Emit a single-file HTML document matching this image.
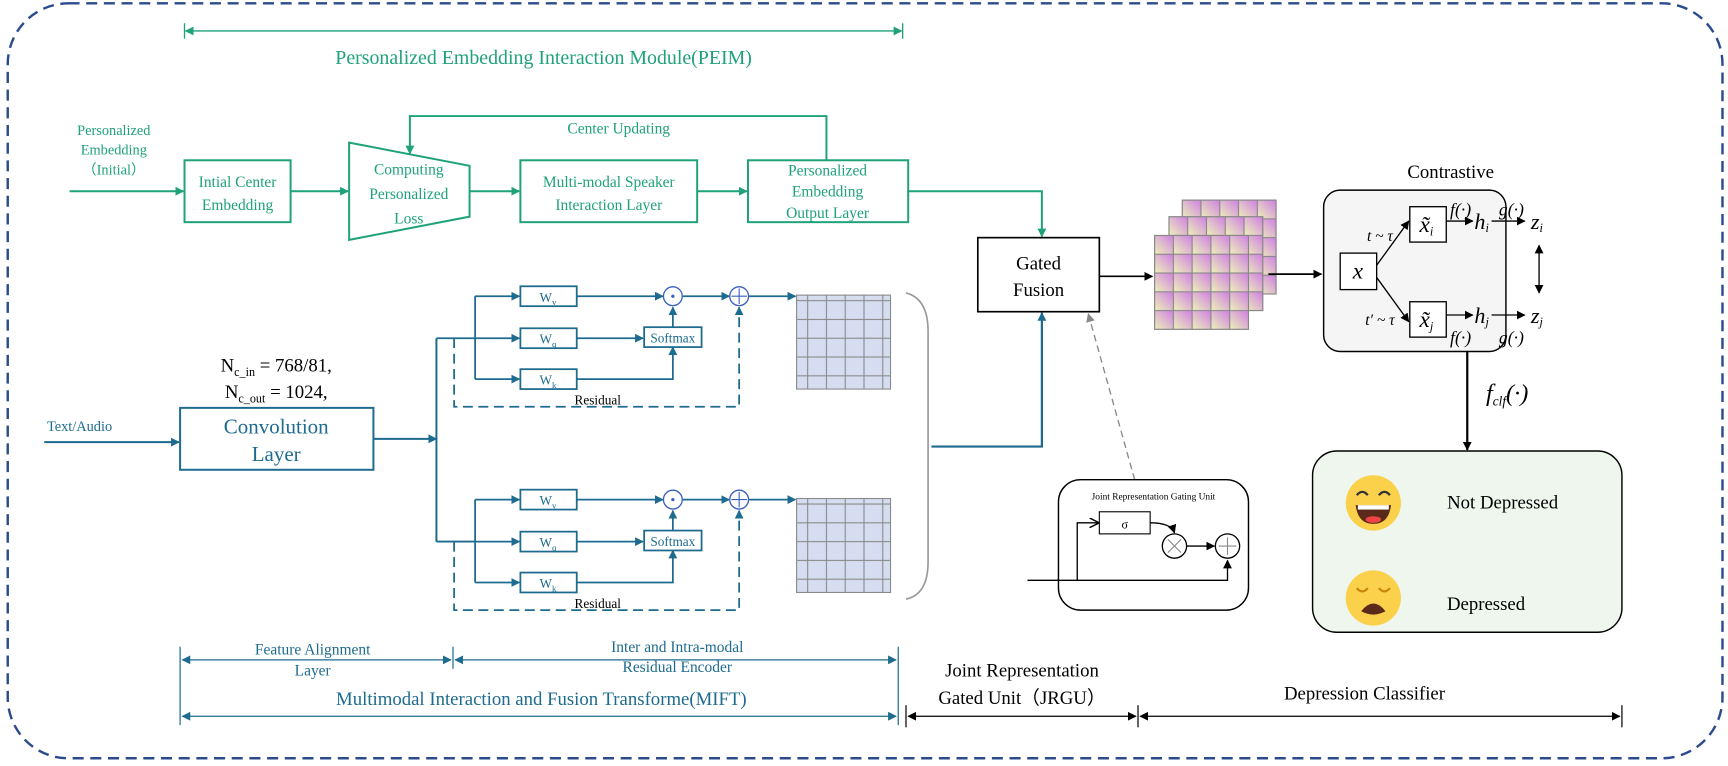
<!DOCTYPE html>
<html><head><meta charset="utf-8"><style>
html,body{margin:0;padding:0;background:#fff;}
svg{display:block;}
text{font-family:"Liberation Serif",serif;}
</style></head><body>
<svg width="1728" height="766" viewBox="0 0 1564 693" preserveAspectRatio="none" xmlns="http://www.w3.org/2000/svg">
<defs>
<marker id="ag" viewBox="0 0 10 10" refX="9" refY="5" markerWidth="8" markerHeight="8" markerUnits="userSpaceOnUse" orient="auto-start-reverse"><path d="M0,0L10,5L0,10z" fill="#1fa27a"/></marker>
<marker id="ab" viewBox="0 0 10 10" refX="9" refY="5" markerWidth="8" markerHeight="8" markerUnits="userSpaceOnUse" orient="auto-start-reverse"><path d="M0,0L10,5L0,10z" fill="#1d6b8f"/></marker>
<marker id="ak" viewBox="0 0 10 10" refX="9" refY="5" markerWidth="8" markerHeight="8" markerUnits="userSpaceOnUse" orient="auto-start-reverse"><path d="M0,0L10,5L0,10z" fill="#000"/></marker>
<marker id="ay" viewBox="0 0 10 10" refX="9" refY="5" markerWidth="8" markerHeight="8" markerUnits="userSpaceOnUse" orient="auto"><path d="M0,0L10,5L0,10z" fill="#888"/></marker>
<marker id="ao" viewBox="0 0 10 10" refX="9" refY="5" markerWidth="9" markerHeight="9" markerUnits="userSpaceOnUse" orient="auto"><path d="M0,0L10,5L0,10" fill="none" stroke="#000" stroke-width="1.5"/></marker>
<linearGradient id="cg" x1="0" y1="1" x2="1" y2="0"><stop offset="0" stop-color="#eef3b8"/><stop offset="1" stop-color="#cf7fe3"/></linearGradient>
<pattern id="cells" x="0" y="0" width="17" height="17" patternUnits="userSpaceOnUse"><rect width="17" height="17" fill="url(#cg)" stroke="#888" stroke-width="1"/></pattern>
<pattern id="bcells" width="17" height="17" patternUnits="userSpaceOnUse"><rect width="17" height="17" fill="#d6ddf0" stroke="#8a8a8a" stroke-width="1"/></pattern>
</defs>

<rect x="7" y="3" width="1552" height="683" rx="55" fill="none" stroke="#2b4b8c" stroke-width="2.2" stroke-dasharray="10,6"/>

<!-- PEIM header -->
<g stroke="#1fa27a" stroke-width="1.2" fill="none">
<line x1="168" y1="28" x2="816" y2="28" marker-end="url(#ag)" marker-start="url(#ag)"/>
<line x1="167" y1="21" x2="167" y2="35"/><line x1="817" y1="21" x2="817" y2="35"/>
</g>
<text x="492" y="58" font-size="18" fill="#1fa27a" text-anchor="middle">Personalized Embedding Interaction Module(PEIM)</text>

<!-- PEIM row -->
<g fill="#1fa27a" font-size="13" text-anchor="middle">
<text x="103" y="122">Personalized</text><text x="103" y="140">Embedding</text><text x="103" y="158">（Initial）</text>
</g>
<g stroke="#1fa27a" stroke-width="1.8" fill="none">
<line x1="63" y1="173" x2="166" y2="173" marker-end="url(#ag)"/>
<rect x="167" y="145" width="96" height="56"/>
<line x1="263" y1="173" x2="315" y2="173" marker-end="url(#ag)"/>
<polygon points="316,129 425,150 425,196 316,217"/>
<line x1="425" y1="173" x2="470" y2="173" marker-end="url(#ag)"/>
<rect x="471" y="145" width="160" height="56"/>
<line x1="631" y1="173" x2="676" y2="173" marker-end="url(#ag)"/>
<rect x="677" y="145" width="145" height="56"/>
<polyline points="748,145 748,105 371,105 371,139" marker-end="url(#ag)"/>
<polyline points="822,173 943,173 943,214" marker-end="url(#ag)"/>
</g>
<g fill="#1fa27a" font-size="14" text-anchor="middle">
<text x="215" y="169">Intial Center</text><text x="215" y="190">Embedding</text>
<text x="370" y="158">Computing</text><text x="370" y="180">Personalized</text><text x="370" y="202">Loss</text>
<text x="551" y="169">Multi-modal Speaker</text><text x="551" y="190">Interaction Layer</text>
<text x="749" y="159">Personalized</text><text x="749" y="178">Embedding</text><text x="749" y="197">Output Layer</text>
<text x="560" y="121">Center Updating</text>
</g>

<!-- Left input -->
<text x="72" y="390" font-size="13" fill="#1d6b8f" text-anchor="middle">Text/Audio</text>
<g stroke="#1d6b8f" stroke-width="1.8" fill="none">
<line x1="40" y1="400" x2="162" y2="400" marker-end="url(#ab)"/>
<rect x="163" y="369" width="175" height="56"/>
<line x1="338" y1="397" x2="395" y2="397" marker-end="url(#ab)"/>
<line x1="395" y1="306" x2="395" y2="490"/>
</g>
<g fill="#1d6b8f" text-anchor="middle">
<text x="250" y="392" font-size="19">Convolution</text><text x="250" y="417" font-size="19">Layer</text>
</g>
<text x="250" y="336" font-size="17" text-anchor="middle">N<tspan font-size="11" dy="4">c_in</tspan><tspan dy="-4"> = 768/81,</tspan></text>
<text x="250" y="360" font-size="17" text-anchor="middle">N<tspan font-size="11" dy="4">c_out</tspan><tspan dy="-4"> = 1024,</tspan></text>

<!-- Transformer blocks -->
<g id="blk">
<g stroke="#1d6b8f" stroke-width="1.6" fill="none">
<line x1="395" y1="306" x2="430" y2="306"/>
<line x1="430" y1="268" x2="430" y2="343"/>
<line x1="430" y1="268" x2="470" y2="268" marker-end="url(#ab)"/>
<line x1="430" y1="306" x2="470" y2="306" marker-end="url(#ab)"/>
<line x1="430" y1="343" x2="470" y2="343" marker-end="url(#ab)"/>
<rect x="471" y="259" width="51" height="18"/>
<rect x="471" y="297" width="51" height="18"/>
<rect x="471" y="334" width="51" height="18"/>
<line x1="522" y1="268" x2="600" y2="268" marker-end="url(#ab)"/>
<line x1="522" y1="306" x2="582" y2="306" marker-end="url(#ab)"/>
<polyline points="522,343 609,343 609,314" marker-end="url(#ab)"/>
<rect x="583" y="296" width="52" height="18"/>
<line x1="609" y1="296" x2="609" y2="278" marker-end="url(#ab)"/>
<line x1="618" y1="268" x2="660" y2="268" marker-end="url(#ab)"/>
<line x1="678" y1="268" x2="720" y2="268" marker-end="url(#ab)"/>
<polyline points="411,306 411,368 669,368 669,278" stroke-dasharray="9,5" marker-end="url(#ab)"/>
</g>
<circle cx="609" cy="268" r="8.5" fill="#fff" stroke="#3a5fc0" stroke-width="1.2"/>
<circle cx="609" cy="268" r="1.5" fill="#3a5fc0"/>
<circle cx="669" cy="268" r="8.5" fill="#fff" stroke="#3a5fc0" stroke-width="1.2"/>
<path d="M669,261v14M662,268h14" stroke="#3a5fc0" stroke-width="1"/>
<g fill="#1d6b8f" font-size="12" text-anchor="middle">
<text x="496" y="273">W<tspan font-size="8" dy="3">v</tspan></text>
<text x="496" y="311">W<tspan font-size="8" dy="3">q</tspan></text>
<text x="496" y="348">W<tspan font-size="8" dy="3">k</tspan></text>
<text x="609" y="310">Softmax</text>
</g>
<text x="541" y="366" font-size="12" text-anchor="middle">Residual</text>
<rect x="721" y="267" width="85" height="85" fill="url(#bcells)" stroke="#8a8a8a"/>
</g>
<use href="#blk" transform="translate(0,184)"/>
<line x1="395" y1="490" x2="430" y2="490" stroke="#1d6b8f" stroke-width="1.6"/>

<!-- bracket -->
<path d="M820,265 Q840,270 840,300 L840,508 Q840,538 820,542" fill="none" stroke="#999" stroke-width="1.5"/>
<polyline points="843,404 943,404 943,283" fill="none" stroke="#1d6b8f" stroke-width="2" marker-end="url(#ab)"/>

<!-- Gated fusion -->
<rect x="885" y="215" width="110" height="67" fill="#fff" stroke="#000" stroke-width="1.5"/>
<text x="940" y="244" font-size="17" text-anchor="middle">Gated</text>
<text x="940" y="268" font-size="17" text-anchor="middle">Fusion</text>
<line x1="995" y1="250" x2="1043" y2="250" stroke="#000" stroke-width="1.5" marker-end="url(#ak)"/>
<line x1="1027" y1="434" x2="985" y2="284" stroke="#888" stroke-width="1.2" stroke-dasharray="6,4" marker-end="url(#ay)"/>

<!-- stacked grids -->
<g transform="translate(1070,181)"><rect width="85" height="85" fill="url(#cells)" stroke="#888"/></g>
<g transform="translate(1058,196)"><rect width="85" height="85" fill="url(#cells)" stroke="#888"/></g>
<g transform="translate(1045,213)"><rect width="85" height="85" fill="url(#cells)" stroke="#888"/></g>
<line x1="1148" y1="248" x2="1196" y2="248" stroke="#000" stroke-width="1.5" marker-end="url(#ak)"/>

<!-- Contrastive -->
<text x="1313" y="161" font-size="17" text-anchor="middle">Contrastive</text>
<rect x="1198" y="172" width="165" height="146" rx="15" fill="#f5f5f5" stroke="#000" stroke-width="1.3"/>
<g stroke="#000" stroke-width="1.2" fill="#fff">
<rect x="1213" y="229" width="33" height="33"/>
<rect x="1276" y="187" width="33" height="32"/>
<rect x="1276" y="273" width="33" height="32"/>
</g>
<g stroke="#000" stroke-width="1.2" fill="none">
<line x1="1246" y1="240" x2="1275" y2="200" marker-end="url(#ak)"/>
<line x1="1246" y1="251" x2="1275" y2="291" marker-end="url(#ak)"/>
<line x1="1309" y1="200" x2="1333" y2="200" marker-end="url(#ak)"/>
<line x1="1350" y1="200" x2="1380" y2="200" marker-end="url(#ak)"/>
<line x1="1309" y1="285" x2="1333" y2="285" marker-end="url(#ak)"/>
<line x1="1350" y1="285" x2="1380" y2="285" marker-end="url(#ak)"/>
<line x1="1393" y1="222" x2="1393" y2="265" marker-end="url(#ak)" marker-start="url(#ak)"/>
</g>
<g font-style="italic" font-size="16" text-anchor="middle">
<text x="1229" y="252" font-size="21">x</text>
<text x="1291" y="210" font-size="21">x̃<tspan font-size="11" dy="3">i</tspan></text>
<text x="1291" y="296" font-size="21">x̃<tspan font-size="11" dy="3">j</tspan></text>
<text x="1249" y="218" font-size="14">t ~ τ</text>
<text x="1249" y="294" font-size="14">t′ ~ τ</text>
<text x="1322" y="195">f(·)</text>
<text x="1322" y="311">f(·)</text>
<text x="1368" y="195">g(·)</text>
<text x="1368" y="311">g(·)</text>
<text x="1341" y="207" font-size="20">h<tspan font-size="11" dy="3">i</tspan></text>
<text x="1341" y="292" font-size="20">h<tspan font-size="11" dy="3">j</tspan></text>
<text x="1391" y="207" font-size="20">z<tspan font-size="11" dy="3">i</tspan></text>
<text x="1391" y="292" font-size="20">z<tspan font-size="11" dy="3">j</tspan></text>
</g>
<line x1="1328" y1="318" x2="1328" y2="407" stroke="#000" stroke-width="2" marker-end="url(#ak)"/>
<text x="1345" y="363" font-size="22" font-style="italic">f<tspan font-size="12" dy="4">clf</tspan><tspan dy="-4">(·)</tspan></text>

<!-- classifier -->
<rect x="1188" y="408" width="280" height="164" rx="22" fill="#eef6ee" stroke="#000" stroke-width="1.3"/>
<circle cx="1243" cy="455" r="25" fill="#fbd04a"/>
<path d="M1228,448 q5,-6 10,0 M1248,448 q5,-6 10,0" fill="none" stroke="#333" stroke-width="2"/>
<path d="M1227,457 h32 q-2,17 -16,17 q-14,0 -16,-17z" fill="#5a2a1a"/>
<rect x="1229" y="457" width="28" height="4" fill="#fff"/>
<ellipse cx="1243" cy="470" rx="7" ry="3" fill="#e44"/>
<circle cx="1243" cy="541" r="25" fill="#fbd04a"/>
<path d="M1228,532 q5,6 10,0 M1248,532 q5,6 10,0" fill="none" stroke="#c8860d" stroke-width="2"/>
<path d="M1232,553 q11,-14 22,0 q-11,6 -22,0z" fill="#5a2a1a"/>
<text x="1360" y="460" font-size="17" text-anchor="middle">Not Depressed</text>
<text x="1345" y="552" font-size="17" text-anchor="middle">Depressed</text>

<!-- JRGU box -->
<rect x="958" y="434" width="172" height="118" rx="20" fill="#fff" stroke="#000" stroke-width="1.3"/>
<text x="1044" y="452" font-size="8.5" text-anchor="middle">Joint Representation Gating Unit</text>
<rect x="995" y="463" width="46" height="20" fill="#fff" stroke="#000"/>
<text x="1018" y="478" font-size="11" text-anchor="middle" font-family="Liberation Sans,sans-serif">σ</text>
<g stroke="#000" stroke-width="1.2" fill="none">
<polyline points="930,525 1111,525 1111,507" marker-end="url(#ak)"/>
<polyline points="975,525 975,473 994,473" marker-end="url(#ao)"/>
<path d="M1041,473 Q1060,473 1063,482" marker-end="url(#ak)"/>
<line x1="1073" y1="494" x2="1099" y2="494" marker-end="url(#ak)"/>
<circle cx="1063" cy="494" r="11" fill="#fff"/>
<circle cx="1111" cy="494" r="11" fill="#fff"/>
</g>
<path d="M1057,488l12,12M1069,488l-12,12" stroke="#888" stroke-width="1"/>
<path d="M1111,486v16M1103,494h16" stroke="#888" stroke-width="1"/>

<!-- bottom annotations -->
<g stroke="#1d6b8f" stroke-width="1.1" fill="none">
<line x1="163" y1="585" x2="163" y2="656"/><line x1="410" y1="585" x2="410" y2="605"/><line x1="813" y1="585" x2="813" y2="656"/>
<line x1="165" y1="597" x2="408" y2="597" marker-end="url(#ab)" marker-start="url(#ab)"/>
<line x1="412" y1="597" x2="811" y2="597" marker-end="url(#ab)" marker-start="url(#ab)"/>
<line x1="165" y1="648" x2="811" y2="648" marker-end="url(#ab)" marker-start="url(#ab)"/>
</g>
<g fill="#1d6b8f" text-anchor="middle">
<text x="283" y="592" font-size="14">Feature Alignment</text><text x="283" y="611" font-size="14">Layer</text>
<text x="613" y="590" font-size="14">Inter and Intra-modal</text><text x="613" y="608" font-size="14">Residual Encoder</text>
<text x="490" y="638" font-size="17">Multimodal Interaction and Fusion Transforme(MIFT)</text>
</g>
<g stroke="#000" stroke-width="1.1" fill="none">
<line x1="820" y1="638" x2="820" y2="658"/><line x1="1030" y1="638" x2="1030" y2="658"/><line x1="1468" y1="638" x2="1468" y2="658"/>
<line x1="822" y1="648" x2="1028" y2="648" marker-end="url(#ak)" marker-start="url(#ak)"/>
<line x1="1032" y1="648" x2="1466" y2="648" marker-end="url(#ak)" marker-start="url(#ak)"/>
</g>
<g text-anchor="middle" font-size="17">
<text x="925" y="612">Joint Representation</text>
<text x="925" y="637" font-family="Liberation Serif,Noto Serif CJK SC,serif">Gated Unit（JRGU）</text>
<text x="1235" y="633">Depression Classifier</text>
</g>
</svg>
</body></html>
